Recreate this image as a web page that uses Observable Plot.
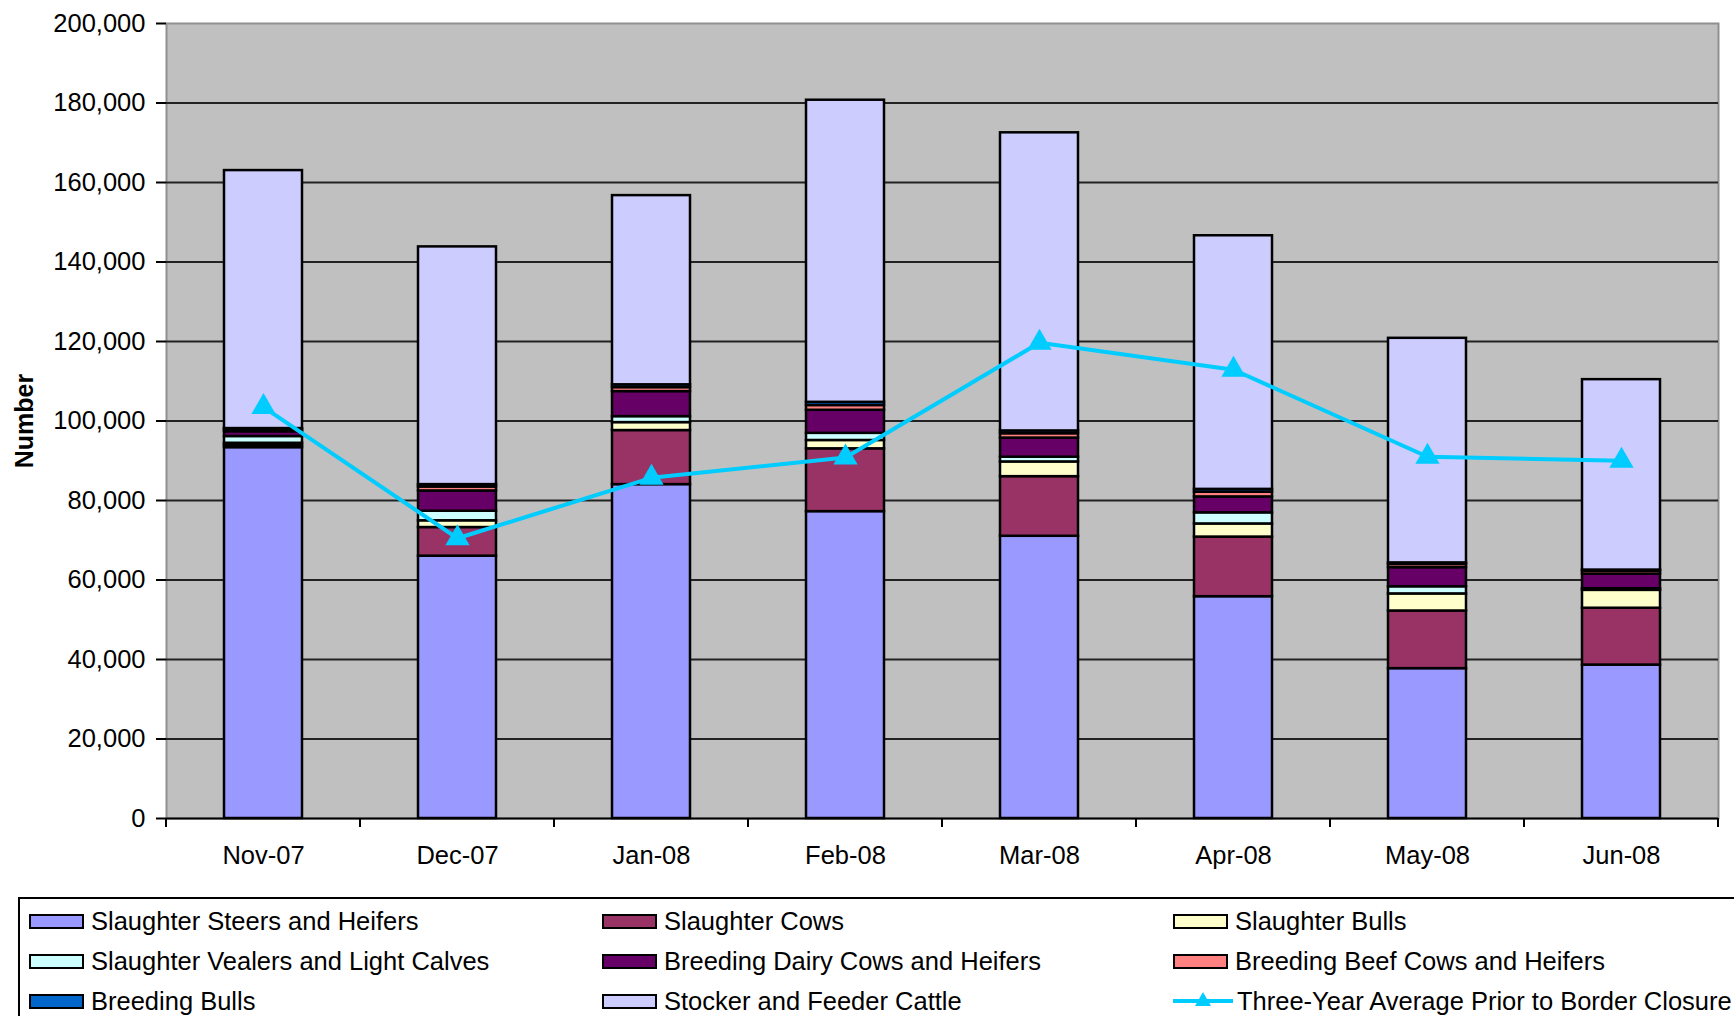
<!DOCTYPE html>
<html><head><meta charset="utf-8">
<script src="https://cdn.jsdelivr.net/npm/d3@7"></script>
<script src="https://cdn.jsdelivr.net/npm/@observablehq/plot@0.6"></script>
<style>
html,body{margin:0;padding:0;background:#fff;overflow:hidden;width:1734px;height:1016px;}
body{font-family:"Liberation Sans", Arial, sans-serif;position:relative;}
#chart{position:absolute;left:0;top:0;}
#legend{position:absolute;left:18px;top:897px;width:1760px;height:160px;border:2px solid #000;border-right:none;box-sizing:border-box;
  display:grid;grid-template-columns:573px 571px auto;grid-auto-rows:40px;padding-top:2px;padding-left:9px;}
.item{display:flex;align-items:center;font-size:25.5px;color:#000;white-space:nowrap;}
.sw{width:51px;height:11px;border:2px solid #000;margin-right:7px;flex:none;}
.ln{width:60px;height:24px;margin-right:4px;flex:none;}
</style></head><body>
<div id="chart"></div><div id="legend"></div>
<script>
const months = ["Nov-07","Dec-07","Jan-08","Feb-08","Mar-08","Apr-08","May-08","Jun-08"];
const seriesNames = [
  "Slaughter Steers and Heifers","Slaughter Cows","Slaughter Bulls",
  "Slaughter Vealers and Light Calves","Breeding Dairy Cows and Heifers","Breeding Beef Cows and Heifers",
  "Breeding Bulls","Stocker and Feeder Cattle"];
const seriesColors = ["#9999FF","#993366","#FFFFCC","#CCFFFF","#660066","#FF8080","#0066CC","#CCCCFF"];
const steers  = [93300, 66000, 84000, 77200, 71000, 55800, 37700, 38600];
const cows    = [600, 7200, 13600, 15800, 15000, 15000, 14500, 14300];
const bulls   = [500, 1700, 2000, 2100, 3700, 3300, 4300, 4500];
const vealers = [1700, 2400, 1500, 1800, 1200, 2800, 1800, 400];
const dairy   = [1200, 5100, 6300, 5800, 4800, 4000, 4800, 3700];
const beef    = [500, 1000, 1000, 1200, 1100, 1200, 800, 700];
const breedingBulls = [300, 600, 700, 800, 700, 700, 400, 300];
const stocker = [64900, 59800, 47600, 76000, 75000, 63800, 56500, 47900];
const threeYearAvg = [103500, 70500, 85700, 90800, 119700, 112900, 91000, 90000];
const lineName = "Three-Year Average Prior to Border Closure";
const lineColor = "#00CCFF";
const yTicks = [0,20000,40000,60000,80000,100000,120000,140000,160000,180000,200000];

const seriesValues = [steers, cows, bulls, vealers, dairy, beef, breedingBulls, stocker];
const long = [];
seriesNames.forEach((s, si) => months.forEach((m, mi) => long.push({month: m, series: s, value: seriesValues[si][mi]})));
const avgData = months.map((m, i) => ({month: m, value: threeYearAvg[i]}));

function boundaryTicks(index, scales, values, dims) {
  const xs = scales.x;
  const step = xs.step(), bw = xs.bandwidth();
  const y0 = dims.height - dims.marginBottom;
  const g = d3.create("svg:g");
  const xsPos = months.map(m => xs(m) + bw / 2 - step / 2);
  xsPos.push(xs(months[months.length - 1]) + bw / 2 + step / 2);
  for (const xx of xsPos) {
    g.append("line").attr("x1", xx).attr("x2", xx).attr("y1", y0).attr("y2", y0 + 9)
      .attr("stroke", "#000").attr("stroke-width", 2);
  }
  return g.node();
}

const common = {
  width: 1734, height: 880,
  marginLeft: 166, marginRight: 16, marginTop: 23, marginBottom: 62
};
const chart = Plot.plot({
  ...common,
  style: {fontFamily: "'Liberation Sans', Arial, sans-serif", fontSize: "25.5px", color: "#000", background: "#fff", overflow: "visible"},
  x: {domain: months, paddingInner: 0.6, paddingOuter: 0.3},
  y: {domain: [0, 200000]},
  color: {domain: seriesNames, range: seriesColors},
  marks: [
    Plot.frame({fill: "#C0C0C0", stroke: "#909090", strokeWidth: 2}),
    Plot.ruleY(yTicks.filter(v => v > 0 && v < 200000), {stroke: "#222", strokeWidth: 2}),
    Plot.barY(long, {x: "month", y: "value", fill: "series", stroke: "#000", strokeWidth: 2.5}),
    Plot.ruleY([0], {stroke: "#000", strokeWidth: 2}),
    Plot.axisY({ticks: yTicks, tickSize: 10, tickPadding: 11, tickFormat: d3.format(","), line: true, stroke: "#000", strokeWidth: 2, fill: "#000", label: null}),
    Plot.axisX({tickSize: 0, tickPadding: 27, fill: "#000", label: null}),
    Plot.text(["Number"], {frameAnchor: "left", dx: -142, rotate: -90, text: d => d, fontWeight: "bold", fontSize: 25, fill: "#000", lineAnchor: "middle", textAnchor: "middle"}),
    Plot.line(avgData, {x: "month", y: "value", stroke: lineColor, strokeWidth: 4}),
    Plot.dot(avgData, {x: "month", y: "value", symbol: "triangle", r: 9, fill: lineColor, stroke: null})
  ]
});
document.getElementById("chart").appendChild(chart);
const tickMark = Plot.plot({
  ...common,
  x: {domain: months, paddingInner: 0.6, paddingOuter: 0.3, axis: null},
  y: {domain: [0, 200000], axis: null},
  style: {background: "transparent"},
  marks: [boundaryTicks]
});
tickMark.style.position = "absolute"; tickMark.style.left = "0px"; tickMark.style.top = "0px";
document.getElementById("chart").appendChild(tickMark);

// legend
const legend = document.getElementById("legend");
seriesNames.forEach((name, i) => {
  const it = document.createElement("div"); it.className = "item";
  const sw = document.createElement("div"); sw.className = "sw"; sw.style.background = seriesColors[i];
  it.appendChild(sw);
  it.appendChild(document.createTextNode(name));
  legend.appendChild(it);
});
const li = document.createElement("div"); li.className = "item";
li.innerHTML = `<svg class="ln" viewBox="0 0 60 24"><line x1="0" x2="60" y1="12" y2="12" stroke="${lineColor}" stroke-width="4"/><path d="M30,3 L38,17 L22,17 Z" fill="${lineColor}"/></svg>`;
li.appendChild(document.createTextNode(lineName));
legend.appendChild(li);
</script>
</body></html>
